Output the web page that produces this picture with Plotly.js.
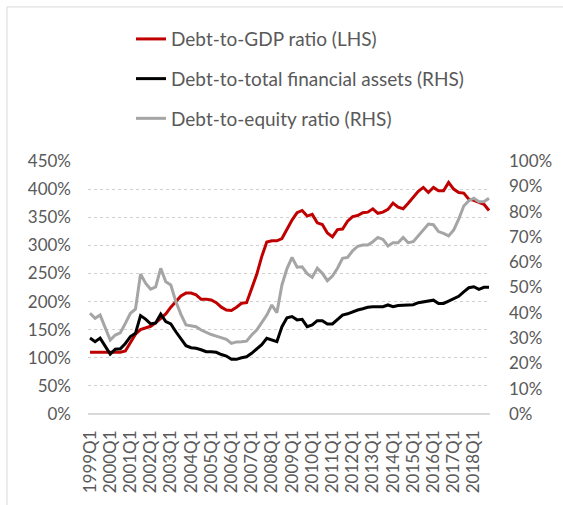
<!DOCTYPE html>
<html>
<head>
<meta charset="utf-8">
<script src="https://cdn.plot.ly/plotly-3.0.1.min.js"></script>
<style>html,body{margin:0;padding:0;background:#fff;}#chart{width:563px;height:505px;}</style>
</head>
<body>
<div id="chart"></div>
<script>
// Quarters 1999Q1 .. 2018Q4
const startYear = 1999;
const endYear = 2018;
const quarters = [];
for (let y = startYear; y <= endYear; y++) { for (let q = 1; q <= 4; q++) quarters.push(y + 'Q' + q); }
const tickLabels = quarters.filter(function (s) { return s.endsWith('Q1'); });

// Debt-to-GDP ratio (LHS, %)
const debtToGDP = [110,110,110,110,110,110,110,112,128,142,150,153,156,162,170,178,190,200,210,215,
  215,212,204,204,203,198,190,185,184,190,197,198,225,248,280,306,308,308,312,328,
  345,358,362,352,355,340,337,322,315,328,329,343,351,353,358,359,365,357,359,364,
  375,368,365,375,385,396,403,394,403,397,397,412,400,394,393,382,380,376,373,362];

// Debt-to-total financial assets (RHS, %)
const debtToAssets = [30,28.6,30,26.6,23.7,25.6,25.8,27.9,30.6,31.9,38.9,37.5,35.6,36,39.5,36.5,35.6,32.5,29.9,27,
  26.2,26,25.4,24.6,24.6,24.4,23.5,22.9,21.6,21.6,22.2,22.6,24,25.6,27.4,29.9,29.2,28.6,34.5,38,
  38.5,37.2,37.4,34.5,35.2,36.9,36.9,35.6,35.6,37.3,39.1,39.6,40.4,41.1,41.6,42.2,42.4,42.4,42.4,43.1,
  42.4,42.9,43,43.1,43.2,44,44.4,44.6,45,43.7,43.7,44.6,45.5,46.5,48.3,49.9,50.3,49.3,50.1,50.1];

// Debt-to-equity ratio (RHS, %)
const debtToEquity = [39.8,37.8,39.1,33.9,29.2,31.2,32.1,35.8,39.8,41.4,55.3,51.7,49.3,50.2,57.6,52.3,51,44.4,39.4,35.2,
  35,34.5,33.2,32.2,31.4,30.8,30.3,29.5,27.9,28.5,28.6,28.8,31.2,33.2,36.1,39.1,43.1,40,51,57.5,
  61.9,58,58.2,55.5,54,57.6,55.6,52.7,54.5,57.6,61.5,61.9,64.5,66.3,66.8,66.8,68.1,69.8,69,66.4,
  67.7,67.7,69.8,67.7,68.1,70.4,73,75.1,74.8,72.1,71.4,70.4,72.7,77,82.2,84.3,85.3,83.9,83.9,85.3];

const seriesNames = ['Debt-to-GDP ratio (LHS)', 'Debt-to-total financial assets (RHS)', 'Debt-to-equity ratio (RHS)'];
const seriesColors = ['#C00000', '#000000', '#A5A5A5'];

const FONT = 'Lato, "Open Sans", sans-serif';
const TXT = '#595959';

const traces = [
  {x: quarters, y: debtToGDP, name: seriesNames[0], legendgroup: 'a', yaxis: 'y', type: 'scatter', mode: 'lines',
   line: {color: seriesColors[0], width: 3}},
  {x: quarters, y: debtToAssets, name: seriesNames[1], legendgroup: 'b', yaxis: 'y2', type: 'scatter', mode: 'lines',
   line: {color: seriesColors[1], width: 3}},
  {x: quarters, y: debtToEquity, name: seriesNames[2], legendgroup: 'c', yaxis: 'y2', type: 'scatter', mode: 'lines',
   line: {color: seriesColors[2], width: 3}}
];

const layout = {
  width: 563, height: 505,
  margin: {l: 88, r: 73, t: 161, b: 91},
  paper_bgcolor: '#ffffff', plot_bgcolor: '#ffffff',
  font: {family: FONT, size: 17, color: TXT},
  showlegend: true,
  legend: {x: 0.107, xanchor: 'left', y: 1.557, yanchor: 'top', orientation: 'v',
           tracegroupgap: 12, font: {family: FONT, size: 19, color: TXT}, bgcolor: 'rgba(0,0,0,0)'},
  xaxis: {type: 'category', categoryorder: 'array', categoryarray: quarters,
          range: [-0.4, 79.2], tickmode: 'array', tickvals: tickLabels, ticktext: tickLabels,
          tickangle: -90, showgrid: false, zeroline: false, showline: false, ticks: '',
          ticklabelstandoff: 12, tickfont: {family: FONT, size: 17, color: TXT}, fixedrange: true},
  yaxis: {range: [0, 450], dtick: 50, tick0: 0, ticksuffix: '%', showgrid: true,
          gridcolor: '#d0d0d0', griddash: 'dot', gridwidth: 1,
          zeroline: true, zerolinecolor: '#d9d9d9', zerolinewidth: 2,
          showline: false, ticks: '', ticklabelstandoff: 16,
          tickfont: {family: FONT, size: 17, color: TXT}, fixedrange: true},
  yaxis2: {overlaying: 'y', side: 'right', range: [0, 100], dtick: 10, tick0: 0, ticksuffix: '%',
           showgrid: false, zeroline: false, showline: false, ticks: '', ticklabelstandoff: 18,
           tickfont: {family: FONT, size: 17, color: TXT}, fixedrange: true},
  shapes: [
    {type: 'rect', xref: 'paper', yref: 'paper', x0: -0.2015, x1: 1.2, y0: -0.39, y1: 1.609,
     line: {color: '#d9d9d9', width: 1}, fillcolor: 'rgba(0,0,0,0)', layer: 'below'}
  ]
};

Plotly.newPlot('chart', traces, layout, {displayModeBar: false, staticPlot: true});
</script>
</body>
</html>
